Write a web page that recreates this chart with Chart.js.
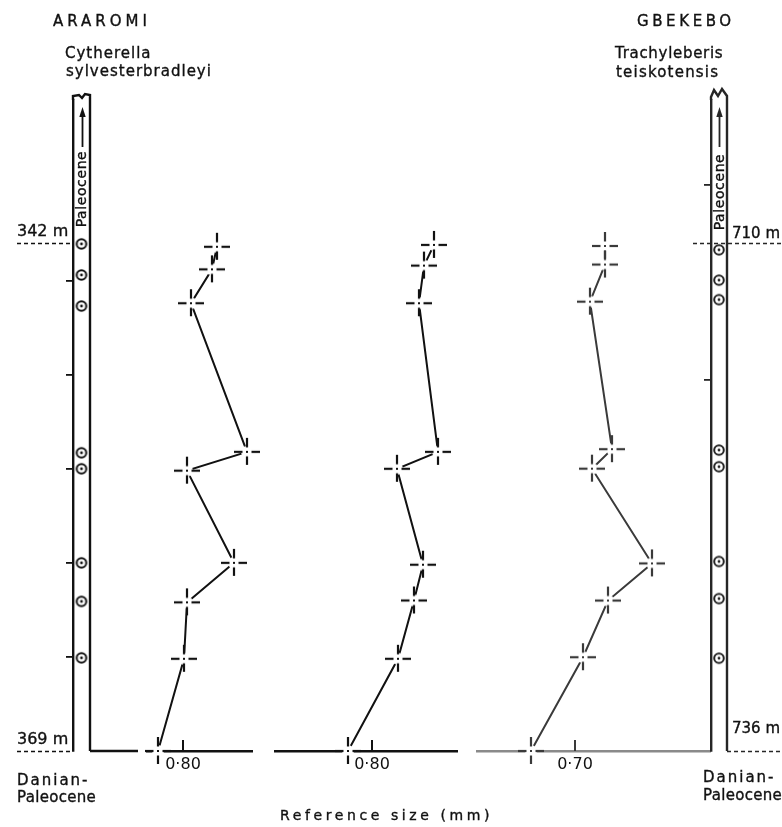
<!DOCTYPE html>
<html>
<head>
<meta charset="utf-8">
<title>Reference size through the Danian–Paleocene sections</title>
<script src="https://cdn.jsdelivr.net/npm/chart.js@4.4.1/dist/chart.umd.min.js"></script>
<style>
  html, body { margin: 0; padding: 0; background: #fff; }
  #page { position: relative; width: 782px; height: 827px; overflow: hidden; background: #fff;
          font-family: "DejaVu Sans", sans-serif; color: #111; }
  #page canvas { position: absolute; top: 0; }
  .t { position: absolute; white-space: nowrap; line-height: 1; -webkit-text-stroke: 0.35px #111; }
  .rot { position: absolute; white-space: nowrap; line-height: 1; font-size: 14px; letter-spacing: 0.6px;
         -webkit-text-stroke: 0.35px #111;
         transform: translate(-50%, -50%) rotate(-90deg); }
</style>
</head>
<body>
<div id="page">
  <canvas id="colA" width="140" height="827" style="left:0px"></canvas>
  <canvas id="p1" width="150" height="827" style="left:117px"></canvas>
  <canvas id="p2" width="220" height="827" style="left:255px"></canvas>
  <canvas id="p3" width="262" height="827" style="left:462px"></canvas>
  <canvas id="colG" width="142" height="827" style="left:640px"></canvas>

  <div class="t" style="left:53px;top:14px;font-size:15px;letter-spacing:4px">ARAROMI</div>
  <div class="t" style="left:65px;top:46px;font-size:15px;letter-spacing:1px">Cytherella</div>
  <div class="t" style="left:66px;top:64px;font-size:15px;letter-spacing:1px">sylvesterbradleyi</div>

  <div class="t" style="left:637px;top:14px;font-size:15px;letter-spacing:3.6px">GBEKEBO</div>
  <div class="t" style="left:615px;top:46px;font-size:15px;letter-spacing:0.7px">Trachyleberis</div>
  <div class="t" style="left:616px;top:65px;font-size:15px;letter-spacing:1.2px">teiskotensis</div>

  <div class="rot" style="left:81px;top:189px">Paleocene</div>
  <div class="rot" style="left:719px;top:192px">Paleocene</div>

  <div class="t" style="left:17px;top:773px;font-size:15px;letter-spacing:2px">Danian-</div>
  <div class="t" style="left:17px;top:790px;font-size:15px;letter-spacing:0.3px">Paleocene</div>
  <div class="t" style="left:703px;top:770px;font-size:15px;letter-spacing:2px">Danian-</div>
  <div class="t" style="left:703px;top:788px;font-size:15px;letter-spacing:0.3px">Paleocene,</div>

  <div class="t" style="left:280px;top:808px;font-size:14px;letter-spacing:3.6px">Reference size (mm)</div>
</div>

<script>
// ---- Section depths (m) ----------------------------------------------------
const araromiWindow = [334.4, 369];        // depth span drawn for Araromi
const gbekeboWindow = [702.68, 736];       // depth span drawn for Gbekebo
const araromiMarks = [342, 369];           // labelled section limits
const gbekeboMarks = [710, 736];
const araromiTicks = [344, 349, 354, 359, 364];
const gbekeboTicks = [707, 717];

// sampled levels shown in the lithological columns
const araromiSamples = [342.05, 343.7, 345.35, 353.15, 354.0, 359.0, 361.05, 364.05];
const gbekeboSamples = [710.35, 711.9, 712.9, 720.6, 721.45, 726.3, 728.2, 731.25];

// ---- Reference size profiles (mm) ------------------------------------------
const cytherellaDepths = [342.2, 343.4, 345.2, 353.1, 354.1, 359.0, 361.1, 364.1, 369.0];
const cytherellaSizes  = [0.834, 0.829, 0.808, 0.864, 0.804, 0.851, 0.804, 0.801, 0.775];

const middleDepths = [342.1, 343.2, 345.2, 353.1, 354.0, 359.1, 361.0, 364.1, 369.0];
const middleSizes  = [0.862, 0.852, 0.847, 0.866, 0.825, 0.851, 0.842, 0.826, 0.776];

const trachyDepths = [710.15, 711.1, 713.0, 720.55, 721.55, 726.4, 728.3, 731.2, 736.0];
const trachySizes  = [0.730, 0.730, 0.715, 0.737, 0.717, 0.777, 0.733, 0.708, 0.656];

// size axis windows and the one labelled reference value per profile
const sizeRange1 = [0.764, 0.869], sizeTick1 = 0.80;
const sizeRange2 = [0.703, 0.885], sizeTick2 = 0.80;
const sizeRange3 = [0.602, 0.835], sizeTick3 = 0.70;

const FONT = 'DejaVu Sans';
const page = document.getElementById('page');

// dashed cross marker, white-backed so lines stop short of it
function crossMark(ink) {
  const c = document.createElement('canvas');
  c.width = c.height = 32;
  const g = c.getContext('2d');
  const m = 16;
  g.fillStyle = '#fff';
  g.beginPath(); g.arc(m, m, 6, 0, Math.PI * 2); g.fill();
  g.strokeStyle = ink; g.lineWidth = 2.2;
  const seg = (x1, y1, x2, y2) => { g.beginPath(); g.moveTo(x1, y1); g.lineTo(x2, y2); g.stroke(); };
  seg(m - 13, m, m - 4.5, m); seg(m + 4.5, m, m + 13, m);
  seg(m, m - 14, m, m - 4.5); seg(m, m + 4.5, m, m + 13);
  g.fillStyle = ink; g.fillRect(m - 1, m - 1, 2, 2);
  return c;
}

// sample level symbol (circle with centre dot)
function ringMark(ink) {
  const c = document.createElement('canvas');
  c.width = c.height = 16;
  const g = c.getContext('2d');
  g.fillStyle = '#fff'; g.strokeStyle = ink; g.lineWidth = 2;
  g.beginPath(); g.arc(8, 8, 4.8, 0, Math.PI * 2); g.fill(); g.stroke();
  g.fillStyle = ink;
  g.beginPath(); g.arc(8, 8, 1.4, 0, Math.PI * 2); g.fill();
  return c;
}

// short tick rising from the size axis at each labelled value
const upTick = {
  id: 'upTick',
  afterDraw(chart, args, opts) {
    const sc = chart.scales.x, ctx = chart.ctx;
    ctx.save();
    ctx.strokeStyle = opts.color || '#111';
    ctx.lineWidth = 2;
    sc.ticks.forEach(t => {
      const px = Math.round(sc.getPixelForValue(t.value));
      ctx.beginPath(); ctx.moveTo(px, sc.top); ctx.lineTo(px, sc.top - 11); ctx.stroke();
    });
    ctx.restore();
  }
};

function profileChart(id, sizes, depths, xRange, tickValue, yRange, pad, ink, axisInk) {
  return new Chart(document.getElementById(id), {
    type: 'scatter',
    data: {
      datasets: [{
        data: sizes.map((s, i) => ({ x: s, y: depths[i] })),
        showLine: true,
        borderColor: ink,
        borderWidth: 2,
        pointStyle: crossMark(ink),
        pointRadius: 10,
        pointHoverRadius: 10,
        tension: 0,
        clip: false
      }]
    },
    options: {
      responsive: false,
      animation: false,
      events: [],
      layout: { padding: { left: pad[0], right: pad[1], top: 100, bottom: 0 } },
      plugins: { legend: { display: false }, tooltip: { enabled: false }, upTick: { color: ink } },
      scales: {
        x: {
          type: 'linear', position: 'bottom', min: xRange[0], max: xRange[1],
          afterBuildTicks: s => { s.ticks = [{ value: tickValue }]; },
          afterFit: s => { s.height = 76; },
          grid: { display: false, drawTicks: false },
          border: { display: true, color: axisInk, width: 2.6 },
          ticks: {
            color: '#111', padding: 4,
            font: { family: FONT, size: 16 },
            callback: v => Number(v).toFixed(2).replace('.', '\u00b7')
          }
        },
        y: { type: 'linear', reverse: true, min: yRange[0], max: yRange[1], display: false }
      }
    },
    plugins: [upTick]
  });
}

// outline of the lithological column: broken top, arrow, base, dashed limits
const columnFrame = {
  id: 'columnFrame',
  afterDraw(chart, args, o) {
    const { ctx, chartArea: a } = chart;
    const ys = chart.scales.y;
    ctx.save();
    ctx.strokeStyle = o.ink; ctx.fillStyle = o.ink;
    ctx.lineWidth = 2.4; ctx.lineJoin = 'miter';
    ctx.beginPath();
    ctx.moveTo(a.left, a.top);
    o.brokenTop.forEach(([dx, dy]) => ctx.lineTo(a.left + dx, a.top + dy));
    ctx.lineTo(a.right, a.bottom);
    ctx.stroke();
    if (o.baseRun) {
      ctx.beginPath(); ctx.moveTo(a.right, a.bottom); ctx.lineTo(a.right + o.baseRun, a.bottom); ctx.stroke();
    }
    // upward arrow
    const cx = Math.round((a.left + a.right) / 2) + 0.5;
    ctx.lineWidth = 1.8;
    ctx.beginPath(); ctx.moveTo(cx, a.top + 47); ctx.lineTo(cx, a.top + 14); ctx.stroke();
    ctx.beginPath();
    ctx.moveTo(cx, a.top + 7); ctx.lineTo(cx - 3.2, a.top + 17); ctx.lineTo(cx + 3.2, a.top + 17);
    ctx.closePath(); ctx.fill();
    // dashed section limits
    ctx.lineWidth = 1.6; ctx.setLineDash([4, 3]);
    o.limits.forEach(l => {
      const y = Math.round(ys.getPixelForValue(l.depth)) + 0.5;
      ctx.beginPath(); ctx.moveTo(l.x1, y); ctx.lineTo(l.x2, y); ctx.stroke();
    });
    ctx.restore();
  }
};

function columnChart(id, samples, ticksAt, yRange, pad, ink, frame) {
  return new Chart(document.getElementById(id), {
    type: 'scatter',
    data: {
      datasets: [{
        data: samples.map(d => ({ x: 0, y: d })),
        pointStyle: ringMark(ink),
        pointRadius: 6,
        showLine: false,
        clip: false
      }]
    },
    options: {
      responsive: false,
      animation: false,
      events: [],
      layout: { padding: { left: pad[0], right: pad[1], top: 100, bottom: 76 } },
      plugins: { legend: { display: false }, tooltip: { enabled: false }, columnFrame: frame },
      scales: {
        x: { type: 'linear', min: -1, max: 1, display: false },
        y: {
          type: 'linear', position: 'left', reverse: true, min: yRange[0], max: yRange[1],
          afterBuildTicks: s => { s.ticks = ticksAt.map(v => ({ value: v })); },
          afterFit: s => { s.width = 7; },
          ticks: { display: false },
          grid: { display: true, drawOnChartArea: false, drawTicks: true, tickLength: 7, color: ink, lineWidth: 1.8 },
          border: { display: true, color: ink, width: 2.4 }
        }
      }
    },
    plugins: [columnFrame]
  });
}

const colA = columnChart('colA', araromiSamples, araromiTicks, araromiWindow, [66, 50], '#111', {
  ink: '#111',
  brokenTop: [[0, -4], [6, -5], [9, -2], [12, -6], [17, -5]],
  baseRun: 48,
  limits: [{ depth: araromiMarks[0], x1: 17, x2: 73 }, { depth: araromiMarks[1], x1: 17, x2: 73 }]
});

const colG = columnChart('colG', gbekeboSamples, gbekeboTicks, gbekeboWindow, [64, 55], '#262626', {
  ink: '#262626',
  brokenTop: [[0, -3], [3, -10], [7, -4], [11, -11], [16, -4]],
  baseRun: 0,
  limits: [{ depth: gbekeboMarks[0], x1: 53, x2: 142 }, { depth: gbekeboMarks[1], x1: 87, x2: 142 }]
});

profileChart('p1', cytherellaSizes, cytherellaDepths, sizeRange1, sizeTick1, araromiWindow, [30, 15], '#111', '#111');
profileChart('p2', middleSizes, middleDepths, sizeRange2, sizeTick2, araromiWindow, [20, 18], '#111', '#111');
profileChart('p3', trachySizes, trachyDepths, sizeRange3, sizeTick3, gbekeboWindow, [15, 14], '#3a3a3a', '#8a8a8a');

// depth labels for the section limits, placed from the depth scales
function depthLabel(chart, depth, left, dy, size) {
  const el = document.createElement('div');
  el.className = 't';
  el.textContent = depth + ' m';
  el.style.left = left + 'px';
  el.style.top = (chart.scales.y.getPixelForValue(depth) + dy) + 'px';
  el.style.fontSize = size + 'px';
  page.appendChild(el);
}
depthLabel(colA, araromiMarks[0], 17, -20, 16);
depthLabel(colA, araromiMarks[1], 17, -20, 16);
depthLabel(colG, gbekeboMarks[0], 732, -17, 15);
depthLabel(colG, gbekeboMarks[1], 732, -30, 15);
</script>
</body>
</html>
